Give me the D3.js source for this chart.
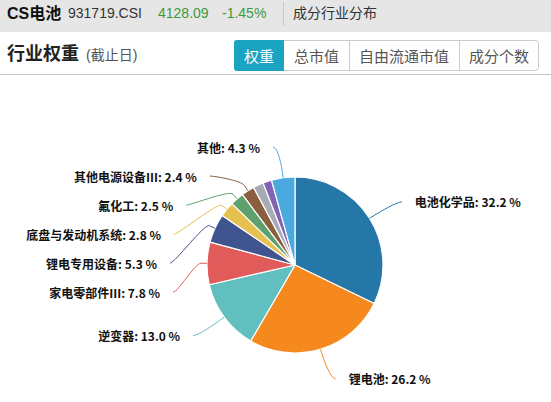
<!DOCTYPE html>
<html>
<head>
<meta charset="utf-8">
<script src="https://cdn.jsdelivr.net/npm/d3@7"></script>
<style>
  body { margin: 0; background: #fff; }
  svg { display: block; }
</style>
</head>
<body>
<div id="chart"></div>
<script>
// industry weights of the CS battery index (percent)
var industries = ["电池化学品", "锂电池", "逆变器", "家电零部件Ⅲ", "锂电专用设备",
                  "底盘与发动机系统", "氟化工", "其他电源设备Ⅲ", "小类一", "小类二", "其他"];
var weights = [32.2, 26.2, 13.0, 7.8, 5.3, 2.8, 2.5, 2.4, 1.9, 1.6, 4.3];
var sliceColors = ["#2577a7", "#f5891e", "#62bfc0", "#e15b5b", "#40548f",
                   "#e6c14f", "#5da26e", "#8b5e3f", "#a7abb5", "#8463b4", "#4aa9df"];
var buttonLabels = ["权重", "总市值", "自由流通市值", "成分个数"];

var width = 551;
var height = 402;
var cx = 295, cy = 265;
var radius = 88;
var labelDistance = 31;

var cjk = '"Liberation Sans", Arial, "Noto Sans CJK SC", sans-serif';

var svg = d3.select('#chart')
  .append('svg')
  .attr('width', width)
  .attr('height', height);

// ---- top grey bar
svg.append('rect')
  .attr('x', 0).attr('y', 0)
  .attr('width', width).attr('height', 32)
  .attr('fill', '#e6e6e6');

var topBar = svg.append('g').attr('font-family', cjk).attr('dominant-baseline', 'central');
topBar.append('text').attr('x', 7).attr('y', 13)
  .attr('font-size', '16px').attr('font-weight', 'bold').attr('fill', '#111')
  .text('CS电池');
topBar.append('text').attr('x', 68).attr('y', 13)
  .attr('font-size', '14px').attr('fill', '#333')
  .text('931719.CSI');
topBar.append('text').attr('x', 158).attr('y', 13)
  .attr('font-size', '14px').attr('fill', '#3c9a3c')
  .text('4128.09');
topBar.append('text').attr('x', 222).attr('y', 13)
  .attr('font-size', '14px').attr('fill', '#3c9a3c')
  .text('-1.45%');
topBar.append('line')
  .attr('x1', 283.5).attr('x2', 283.5).attr('y1', 2).attr('y2', 26)
  .attr('stroke', '#c8c8c8');
topBar.append('text').attr('x', 293).attr('y', 13)
  .attr('font-size', '14px').attr('fill', '#333')
  .text('成分行业分布');

// ---- title row
var title = svg.append('g').attr('font-family', cjk).attr('dominant-baseline', 'central');
title.append('text').attr('x', 7).attr('y', 54)
  .attr('font-size', '18px').attr('font-weight', 'bold').attr('fill', '#222')
  .text('行业权重');
title.append('text').attr('x', 86).attr('y', 55)
  .attr('font-size', '14px').attr('fill', '#555')
  .text('(截止日)');

svg.append('line')
  .attr('x1', 0).attr('x2', width).attr('y1', 74.5).attr('y2', 74.5)
  .attr('stroke', '#c4c4c4');

// buttons
var bx = 234;
var btns = buttonLabels.map(function(t, i) {
  var w = t.length * 15 + 20;
  var b = {label: t, x: bx, w: w, active: i === 0};
  bx += w;
  return b;
});

var btnG = svg.append('g');
btnG.append('rect')
  .attr('x', btns[0].x + 0.5).attr('y', 40.5)
  .attr('width', bx - btns[0].x - 1).attr('height', 30)
  .attr('rx', 3)
  .attr('fill', '#fff').attr('stroke', '#ccc');
btnG.selectAll('line.sep')
  .data(btns.slice(2))
  .enter().append('line')
  .attr('class', 'sep')
  .attr('x1', function(d) { return d.x + 0.5; })
  .attr('x2', function(d) { return d.x + 0.5; })
  .attr('y1', 41).attr('y2', 70)
  .attr('stroke', '#ccc');
btnG.append('path')
  .attr('d', 'M' + (btns[0].x + btns[0].w) + ',40 H' + (btns[0].x + 3) +
        ' Q' + btns[0].x + ',40 ' + btns[0].x + ',43 V68 Q' + btns[0].x + ',71 ' +
        (btns[0].x + 3) + ',71 H' + (btns[0].x + btns[0].w) + ' Z')
  .attr('fill', '#1ba4c1');
btnG.selectAll('text')
  .data(btns)
  .enter().append('text')
  .attr('x', function(d) { return d.x + d.w / 2; })
  .attr('y', 56)
  .attr('text-anchor', 'middle')
  .attr('dominant-baseline', 'central')
  .attr('font-family', cjk)
  .attr('font-size', '15px')
  .attr('fill', function(d) { return d.active ? '#fff' : '#555'; })
  .text(function(d) { return d.label; });

// ---- pie
var data = industries.map(function(n, i) {
  return {label: n, value: weights[i], color: sliceColors[i]};
});

var pie = d3.pie()
  .value(function(d) { return d.value; })
  .sort(null);

var arc = d3.arc()
  .innerRadius(0)
  .outerRadius(radius);

var arcs = pie(data);

var pieG = svg.append('g')
  .attr('transform', 'translate(' + cx + ',' + cy + ')');

pieG.selectAll('path.slice')
  .data(arcs)
  .enter().append('path')
  .attr('class', 'slice')
  .attr('d', arc)
  .attr('fill', function(d) { return d.data.color; })
  .attr('stroke', '#fff')
  .attr('stroke-width', 1.2)
  .attr('stroke-linejoin', 'round');

// labels, highcharts-like placement
var R = radius + labelDistance;
var labels = arcs.filter(function(d) { return d.data.value >= 2; }).map(function(d) {
  var a = (d.startAngle + d.endAngle) / 2;
  return {d: d, a: a, left: a > Math.PI, y: -R * Math.cos(a)};
});

[true, false].forEach(function(side) {
  var list = labels.filter(function(l) { return l.left === side; })
    .sort(function(a, b) { return a.y - b.y; });
  var prev = -Infinity;
  list.forEach(function(l) {
    l.y = Math.max(l.y, prev + 29);
    prev = l.y;
  });
});

labels.forEach(function(l) {
  var dx = Math.sqrt(Math.max(0, R * R - l.y * l.y));
  l.x = l.left ? -dx : dx;
});

var s = function(a, r) { return [r * Math.sin(a), -r * Math.cos(a)]; };

pieG.selectAll('path.connector')
  .data(labels)
  .enter().append('path')
  .attr('class', 'connector')
  .attr('fill', 'none')
  .attr('stroke', function(l) { return l.d.data.color; })
  .attr('stroke-width', 1)
  .attr('d', function(l) {
    var lx = l.left ? l.x - 6 : l.x + 6;
    var touch = s(l.a, radius);
    var brk = s(l.a, radius + 6);
    var c2 = [2 * brk[0] - touch[0], 2 * brk[1] - touch[1]];
    return 'M' + lx + ',' + l.y +
      ' C' + (lx + (l.left ? 5 : -5)) + ',' + l.y + ' ' + c2[0] + ',' + c2[1] + ' ' + brk[0] + ',' + brk[1] +
      ' L' + touch[0] + ',' + touch[1];
  });

pieG.selectAll('text.lbl')
  .data(labels)
  .enter().append('text')
  .attr('class', 'lbl')
  .attr('x', function(l) { return l.left ? l.x - 19 : l.x + 19; })
  .attr('y', function(l) { return l.y; })
  .attr('text-anchor', function(l) { return l.left ? 'end' : 'start'; })
  .attr('dominant-baseline', 'central')
  .attr('font-family', '"Noto Sans CJK SC", "Noto Sans", sans-serif')
  .attr('font-size', '12px')
  .attr('font-weight', 'bold')
  .attr('fill', '#111')
  .text(function(l) { return l.d.data.label + ': ' + l.d.data.value.toFixed(1) + ' %'; });
</script>
</body>
</html>
